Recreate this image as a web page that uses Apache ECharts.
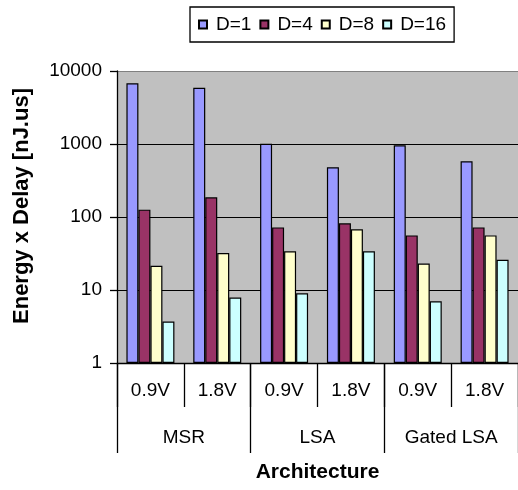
<!DOCTYPE html>
<html>
<head>
<meta charset="utf-8">
<script src="https://cdn.jsdelivr.net/npm/echarts@6/dist/echarts.min.js"></script>
<style>html,body{margin:0;padding:0;background:#fff;}#c{width:518px;height:490px;}</style>
</head>
<body>
<div id="c"></div>
<script>
var voltages = ['0.9V', '1.8V', '0.9V', '1.8V', '0.9V', '1.8V'];
var architectures = ['MSR', 'LSA', 'Gated LSA'];
var seriesNames = ['D=1', 'D=4', 'D=8', 'D=16'];
var seriesColors = ['#9999FF', '#993366', '#FFFFCC', '#CCFFFF'];
var d1 = [6800, 5900, 1010, 480, 960, 580];
var d4 = [126, 186, 72, 82, 56, 72];
var d8 = [21.5, 32, 34, 68, 23, 56];
var d16 = [3.7, 7.9, 9.0, 34, 7.0, 26];
var seriesValues = [d1, d4, d8, d16];

var FONT = "'Liberation Sans', Arial, sans-serif";
var chart = echarts.init(document.getElementById('c'), null, {renderer: 'canvas'});
var series = seriesNames.map(function (n, i) {
  return {
    name: n,
    type: 'bar',
    xAxisIndex: 0,
    barWidth: 12,
    barGap: '0%',
    data: seriesValues[i],
    itemStyle: {color: seriesColors[i], borderColor: '#000', borderWidth: 1.2},
    emphasis: {disabled: true}
  };
});
chart.setOption({
  animation: false,
  backgroundColor: '#fff',
  textStyle: {fontFamily: FONT, color: '#000'},
  legend: {
    left: 190, top: 7,
    padding: [8, 8, 8, 8],
    borderColor: '#000', borderWidth: 1.3,
    itemWidth: 8, itemHeight: 8, itemGap: 8,
    icon: 'rect',
    textStyle: {fontSize: 19, color: '#000', fontFamily: FONT, padding: [0, 0, 0, 4]},
    data: seriesNames
  },
  grid: {left: 117, top: 71, width: 408, height: 292, show: true, backgroundColor: '#C0C0C0', borderWidth: 0},
  xAxis: [{
    type: 'category',
    data: voltages,
    axisLine: {show: true, lineStyle: {color: '#000', width: 1.3}},
    axisTick: {show: true, length: 44, interval: 0, alignWithLabel: false, lineStyle: {color: '#000', width: 1.3}},
    axisLabel: {fontSize: 19, color: '#000', margin: 18, interval: 0, fontFamily: FONT}
  }, {
    type: 'category',
    data: architectures,
    position: 'bottom',
    axisLine: {show: false},
    axisTick: {show: true, length: 90, interval: 0, alignWithLabel: false, lineStyle: {color: '#000', width: 1.3}},
    axisLabel: {fontSize: 19, color: '#000', margin: 65, interval: 0, fontFamily: FONT},
    name: 'Architecture',
    nameLocation: 'middle',
    nameGap: 99,
    nameTextStyle: {fontSize: 21, fontWeight: 'bold', color: '#000', fontFamily: FONT}
  }],
  yAxis: {
    type: 'log',
    logBase: 10,
    min: 1, max: 10000,
    axisLine: {show: true, lineStyle: {color: '#000', width: 1.3}},
    axisTick: {show: true, length: 7, lineStyle: {color: '#000', width: 1.3}},
    axisLabel: {fontSize: 19, color: '#000', margin: 15, fontFamily: FONT,
      formatter: function (v) { return String(Math.round(v)); }},
    splitLine: {show: true, lineStyle: {color: ['#000', '#000', '#000', '#000', '#808080'], width: 1}},
    name: 'Energy x Delay [nJ.us]',
    nameLocation: 'middle',
    nameGap: 84,
    nameTextStyle: {fontSize: 22, fontWeight: 'bold', color: '#000', fontFamily: FONT, padding: [0, 0, 0, 22]}
  },
  series: series
});
</script>
</body>
</html>
